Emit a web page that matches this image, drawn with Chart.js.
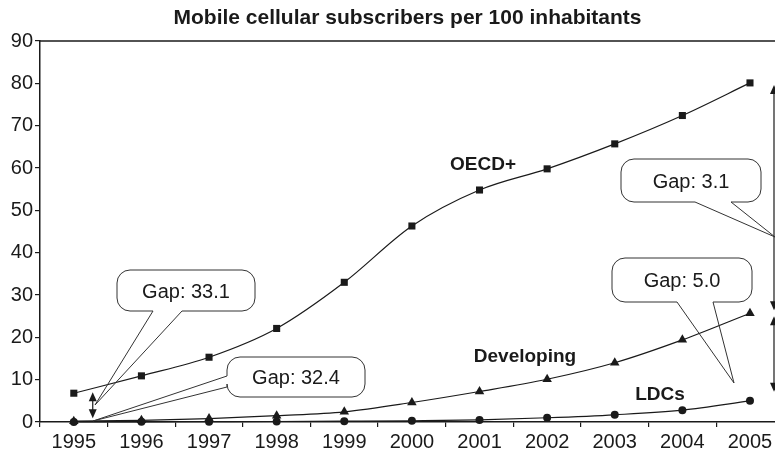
<!DOCTYPE html>
<html>
<head>
<meta charset="utf-8">
<script src="https://cdn.jsdelivr.net/npm/chart.js@4.4.1/dist/chart.umd.min.js"></script>
<style>
  body { margin: 0; background: #fff; overflow: hidden; }
  canvas { display: block; }
</style>
</head>
<body>
<canvas id="chart" width="775" height="458"></canvas>
<script>
// data
const years = [1995, 1996, 1997, 1998, 1999, 2000, 2001, 2002, 2003, 2004, 2005];
const oecd = [6.8, 10.9, 15.3, 22.1, 33.0, 46.3, 54.8, 59.8, 65.7, 72.4, 80.1];
const developing = [0.2, 0.4, 0.8, 1.5, 2.4, 4.6, 7.2, 10.1, 14.0, 19.4, 25.7];
const ldcs = [0.02, 0.04, 0.08, 0.12, 0.2, 0.3, 0.5, 1.0, 1.7, 2.8, 5.0];
const seriesNames = ['OECD+', 'Developing', 'LDCs'];
const gapLabels = ['Gap: 33.1', 'Gap: 32.4', 'Gap: 3.1', 'Gap: 5.0'];
const yTicks = [0, 10, 20, 30, 40, 50, 60, 70, 80, 90];
const titleText = 'Mobile cellular subscribers per 100 inhabitants';

const ink = '#1a1a1a';
const font = '"Liberation Sans", Arial, sans-serif';
const xMin = 1994.5, xMax = 2005.37;

function toPoints(vals) {
    return years.map((yr, i) => ({ x: yr, y: vals[i] }));
}

function isHalf(v) {
    return Math.abs((v % 1) - 0.5) < 1e-6;
}

// callout boxes (pixels)
const bubbles = [
    { text: gapLabels[0], x1: 117, y1: 270, x2: 255, y2: 311, side: 'bottom', b1: 153, b2: 182, tx: 95, ty: 405 },
    { text: gapLabels[1], x1: 227, y1: 357, x2: 365, y2: 397, side: 'left', b1: 376, b2: 387, tx: 93, ty: 421 },
    { text: gapLabels[2], x1: 621, y1: 159, x2: 761, y2: 202, side: 'bottom', b1: 695, b2: 731, tx: 775, ty: 237 },
    { text: gapLabels[3], x1: 612, y1: 258, x2: 752, y2: 302, side: 'bottom', b1: 677, b2: 713, tx: 734, ty: 383 }
];

function arrowHead(ctx, x, y, dir) {
    // dir -1 = pointing up, 1 = pointing down
    ctx.beginPath();
    ctx.moveTo(x, y);
    ctx.lineTo(x - 4, y - dir * 9);
    ctx.lineTo(x + 4, y - dir * 9);
    ctx.closePath();
    ctx.fill();
}

function dblArrow(ctx, x, yTop, yBot) {
    ctx.beginPath();
    ctx.moveTo(x, yTop + 6);
    ctx.lineTo(x, yBot - 6);
    ctx.stroke();
    arrowHead(ctx, x, yTop, -1);
    arrowHead(ctx, x, yBot, 1);
}

function bubblePath(ctx, b, r) {
    const { x1, y1, x2, y2 } = b;
    ctx.beginPath();
    ctx.moveTo(x1 + r, y1);
    ctx.lineTo(x2 - r, y1);
    ctx.arcTo(x2, y1, x2, y1 + r, r);
    ctx.lineTo(x2, y2 - r);
    ctx.arcTo(x2, y2, x2 - r, y2, r);
    if (b.side === 'bottom') {
        ctx.lineTo(b.b2, y2);
        ctx.lineTo(b.tx, b.ty);
        ctx.lineTo(b.b1, y2);
    }
    ctx.lineTo(x1 + r, y2);
    ctx.arcTo(x1, y2, x1, y2 - r, r);
    if (b.side === 'left') {
        ctx.lineTo(x1, b.b2);
        ctx.lineTo(b.tx, b.ty);
        ctx.lineTo(x1, b.b1);
    }
    ctx.lineTo(x1, y1 + r);
    ctx.arcTo(x1, y1, x1 + r, y1, r);
    ctx.closePath();
}

const extras = {
    id: 'extras',
    afterDatasetsDraw(chart) {
        const ctx = chart.ctx;
        const area = chart.chartArea;
        const xs = chart.scales.x;
        const ys = chart.scales.y;
        ctx.save();

        // top frame line
        ctx.strokeStyle = ink;
        ctx.lineWidth = 1.5;
        ctx.beginPath();
        ctx.moveTo(area.left, area.top);
        ctx.lineTo(area.right, area.top);
        ctx.stroke();

        // title
        ctx.fillStyle = ink;
        ctx.font = 'bold 21px ' + font;
        ctx.textAlign = 'center';
        ctx.textBaseline = 'alphabetic';
        ctx.fillText(titleText, (area.left + area.right) / 2, 24);

        // series labels
        ctx.font = 'bold 19px ' + font;
        ctx.fillText(seriesNames[0], 483, 170);
        ctx.fillText(seriesNames[1], 525, 362);
        ctx.fillText(seriesNames[2], 660, 400);

        // gap arrows
        ctx.lineWidth = 1.2;
        ctx.strokeStyle = ink;
        const xl = xs.getPixelForValue(1995.28);
        dblArrow(ctx, xl, ys.getPixelForValue(oecd[0]) - 1, ys.getPixelForValue(0.9));
        const xr = area.right - 1;
        dblArrow(ctx, xr, ys.getPixelForValue(oecd[10]) + 2, ys.getPixelForValue(developing[10]) - 3);
        dblArrow(ctx, xr, ys.getPixelForValue(developing[10]) + 3, ys.getPixelForValue(ldcs[10]) - 9);

        // callouts
        bubbles.forEach(b => {
            ctx.fillStyle = '#fff';
            ctx.beginPath();
            ctx.roundRect(b.x1, b.y1, b.x2 - b.x1, b.y2 - b.y1, 13);
            ctx.fill();
            ctx.strokeStyle = '#333';
            ctx.lineWidth = 1;
            bubblePath(ctx, b, 13);
            ctx.stroke();
            ctx.fillStyle = ink;
            ctx.font = '20px ' + font;
            ctx.textAlign = 'center';
            ctx.fillText(b.text, (b.x1 + b.x2) / 2, (b.y1 + b.y2) / 2 + 7);
        });
        ctx.restore();
    }
};

const lineStyle = {
    borderColor: ink,
    backgroundColor: ink,
    borderWidth: 1.2,
    pointBorderWidth: 0,
    cubicInterpolationMode: 'monotone',
    clip: false,
    fill: false
};

new Chart(document.getElementById('chart'), {
    type: 'line',
    data: {
        datasets: [
            Object.assign({ label: seriesNames[0], data: toPoints(oecd), pointStyle: 'rect', pointRadius: 5 }, lineStyle),
            Object.assign({ label: seriesNames[1], data: toPoints(developing), pointStyle: 'triangle', pointRadius: 5.5 }, lineStyle),
            Object.assign({ label: seriesNames[2], data: toPoints(ldcs), pointStyle: 'circle', pointRadius: 4 }, lineStyle)
        ]
    },
    options: {
        responsive: false,
        animation: false,
        devicePixelRatio: 1,
        layout: { autoPadding: false, padding: { top: 41, left: 0, right: 0, bottom: 0 } },
        plugins: {
            legend: { display: false },
            tooltip: { enabled: false },
            title: { display: false }
        },
        scales: {
            x: {
                type: 'linear',
                min: xMin,
                max: xMax,
                afterBuildTicks(scale) {
                    const t = [{ value: xMin }];
                    years.forEach(yr => {
                        t.push({ value: yr });
                        if (yr + 0.5 < xMax) t.push({ value: yr + 0.5 });
                    });
                    t.push({ value: xMax });
                    scale.ticks = t;
                },
                afterFit(scale) {
                    scale.height = 36;
                    scale.paddingLeft = 0;
                    scale.paddingRight = 0;
                },
                border: { display: true, color: ink, width: 1.5 },
                grid: {
                    drawOnChartArea: false,
                    tickLength: 5,
                    lineWidth: 1.2,
                    color: c => (c.tick && isHalf(c.tick.value)) ? ink : 'rgba(0,0,0,0)'
                },
                ticks: {
                    autoSkip: false,
                    maxRotation: 0,
                    padding: 3,
                    color: ink,
                    font: { family: font, size: 20 },
                    callback: v => (Math.abs(v - Math.round(v)) < 1e-6 ? String(Math.round(v)) : '')
                }
            },
            y: {
                min: 0,
                max: 90,
                afterBuildTicks(scale) {
                    scale.ticks = yTicks.map(v => ({ value: v }));
                },
                afterFit(scale) { scale.width = 40; },
                border: { display: true, color: ink, width: 1.5 },
                grid: {
                    drawOnChartArea: false,
                    tickLength: 5,
                    lineWidth: 1.2,
                    color: ink
                },
                ticks: {
                    padding: 2,
                    color: ink,
                    font: { family: font, size: 20 }
                }
            }
        }
    },
    plugins: [extras]
});
</script>
</body>
</html>
